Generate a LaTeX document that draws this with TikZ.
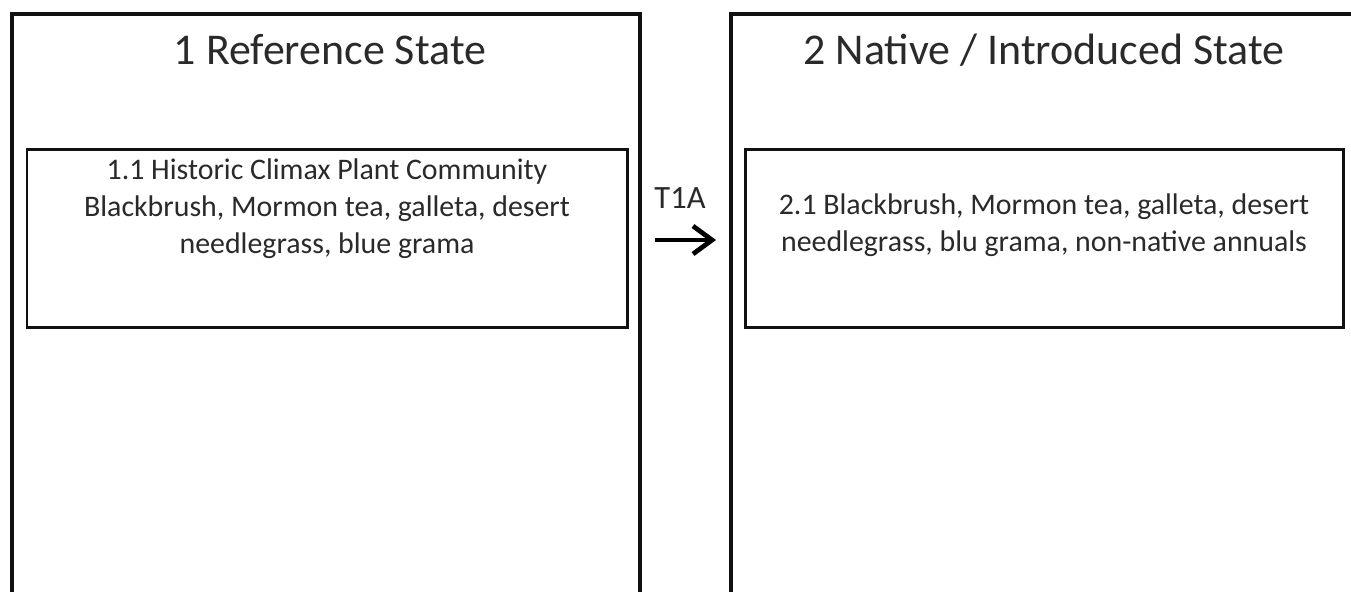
\documentclass[tikz,border=0pt]{standalone}
\usepackage{fontspec}
\setmainfont{Carlito}
\usepackage{tikz}
\usetikzlibrary{arrows.meta, positioning}
\definecolor{stmline}{HTML}{111111}
\definecolor{stmtext}{HTML}{2A2A2A}

\begin{document}
\begin{tikzpicture}[
        every node/.style={align=center, text=stmtext},
        statebox/.style={rectangle, draw=stmline, line width=2.2pt, fill=white,
                         minimum width=12.56cm, minimum height=12.12cm, inner sep=0pt},
        phasebox/.style={rectangle, draw=stmline, line width=1.7pt, fill=white,
                         minimum width=12cm, minimum height=3.56cm, inner sep=0pt},
        ttl/.style={font=\fontsize{25}{30}\selectfont, inner sep=0pt},
        body/.style={font=\fontsize{17}{21}\selectfont, inner sep=0pt, anchor=north},
        trn/.style={font=\fontsize{18.5}{22}\selectfont, inner sep=0pt}
    ]
        \useasboundingbox (0,0) rectangle (27.02,-11.82);

        % state 1
        \node[statebox] (s1) at (6.52,-6.34) {};
        \node[ttl] (s1t) at (6.6,-1.0) {1 Reference State};
        \node[phasebox] (p11) at (6.54,-4.76) {};
        \node[body] at ([yshift=-0.22cm]p11.north)
            {1.1 Historic Climax Plant Community\\ Blackbrush, Mormon tea, galleta, desert\\ needlegrass, blue grama};

        % state 2
        \node[statebox, minimum width=12.78cm] (s2) at (21.01,-6.34) {};
        \node[ttl] (s2t) at (20.88,-1.0) {2 Native / Introduced State};
        \node[phasebox, minimum width=11.96cm] (p21) at (20.88,-4.76) {};
        \node[body] at ([yshift=-0.91cm]p21.north)
            {2.1 Blackbrush, Mormon tea, galleta, desert\\ needlegrass, blu grama, non-native annuals};

        % transition
        \node[trn] (t1a) at (13.6,-3.97) {T1A};
        \coordinate (t1as) at (13.1,-4.8);
        \coordinate (t1ae) at (14.32,-4.8);
        \draw[line width=2.7pt, -{Straight Barb[length=3.8mm, width=5.6mm]}] (t1as) -- (t1ae);
    \end{tikzpicture}
\end{document}
